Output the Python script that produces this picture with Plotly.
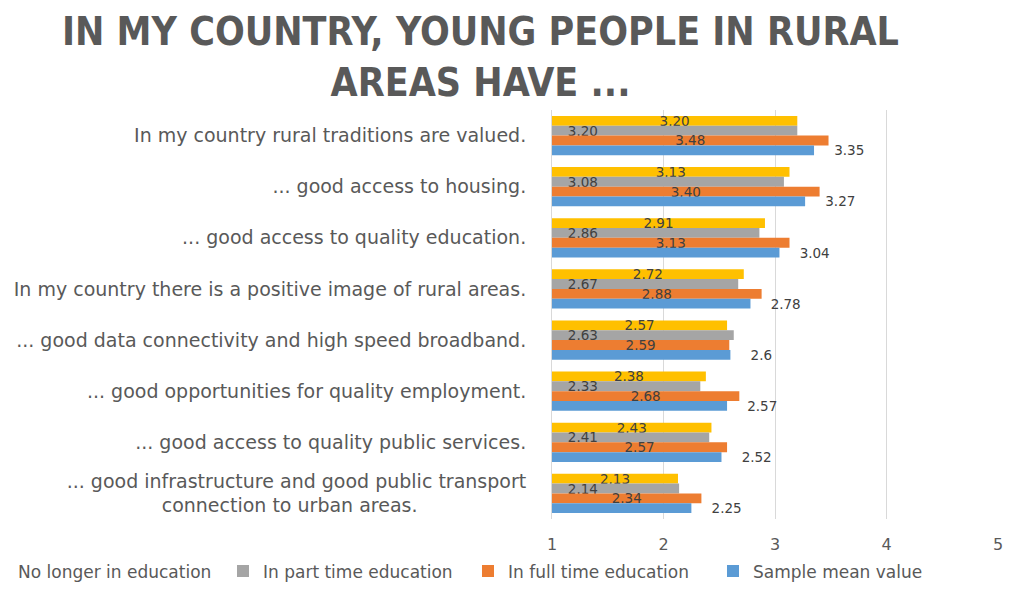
import plotly.graph_objects as go

categories = [
    "In my country rural traditions are valued.",
    "... good access to housing.",
    "... good access to quality education.",
    "In my country there is a positive image of rural areas.",
    "... good data connectivity and high speed broadband.",
    "... good opportunities for quality employment.",
    "... good access to quality public services.",
    "... good infrastructure and good public transport<br>connection to urban areas." + "&nbsp;" * 18,
]
no_longer = [3.20, 3.13, 2.91, 2.72, 2.57, 2.38, 2.43, 2.13]
part_time = [3.20, 3.08, 2.86, 2.67, 2.63, 2.33, 2.41, 2.14]
full_time = [3.48, 3.40, 3.13, 2.88, 2.59, 2.68, 2.57, 2.34]
sample_mean = [3.35, 3.27, 3.04, 2.78, 2.6, 2.57, 2.52, 2.25]

GREY = "#595959"
LABEL = "#404040"
BASE = 1

# top-to-bottom order inside each group (y axis is reversed)
series = [
    ("No longer in education", no_longer, "#FFC000", "inside", "middle", [f"{v:.2f}" for v in no_longer]),
    ("In part time education", part_time, "#A5A5A5", "inside", "start", ["   " + f"{v:.2f}" for v in part_time]),
    ("In full time education", full_time, "#ED7D31", "inside", "middle", [f"{v:.2f}" for v in full_time]),
    ("Sample mean value", sample_mean, "#5B9BD5", "outside", "start", ["    " + str(v) for v in sample_mean]),
]

fig = go.Figure()
for name, vals, color, pos, anchor, txt in series:
    fig.add_trace(go.Bar(
        y=categories,
        x=[v - BASE for v in vals],
        base=BASE,
        name=name,
        orientation="h",
        marker=dict(color=color, line=dict(width=0)),
        text=txt,
        textposition=pos,
        insidetextanchor=anchor,
        textangle=0,
        constraintext="none",
        cliponaxis=False,
        textfont=dict(size=13.5, color=LABEL, family="DejaVu Sans"),
    ))

# page body adds an 8px margin; keep the figure inside the window (no scrollbars)
fig.update_layout(
    width=996,
    height=576,
    barmode="group",
    bargap=0.23,
    bargroupgap=0,
    paper_bgcolor="white",
    plot_bgcolor="white",
    font=dict(family="DejaVu Sans", color=GREY, size=16),
    margin=dict(l=544, r=6, t=102, b=65, autoexpand=False),
    xaxis=dict(
        range=[1, 5],
        tickvals=[1, 2, 3, 4, 5],
        showgrid=True,
        gridcolor="#D9D9D9",
        zeroline=False,
        showline=False,
        ticks="",
        ticklabelstandoff=14,
        tickfont=dict(size=16, color=GREY),
        automargin=False,
    ),
    yaxis=dict(
        autorange="reversed",
        showline=True,
        linecolor="#D9D9D9",
        ticks="",
        ticklabelstandoff=21,
        tickfont=dict(size=19, color=GREY),
        automargin=False,
    ),
    legend=dict(
        orientation="h",
        x=-1.287, xanchor="left",
        y=-0.128, yanchor="middle",
        font=dict(size=17, color=GREY),
        itemwidth=30,
        entrywidth=200,
        entrywidthmode="pixels",
    ),
    annotations=[dict(
        text="<b>IN MY COUNTRY, YOUNG PEOPLE IN RURAL<br>AREAS HAVE ...</b>",
        xref="paper", yref="paper",
        x=-0.161, y=1.252, xanchor="center", yanchor="top",
        showarrow=False,
        font=dict(family="DejaVu Sans Condensed", size=39, color=GREY),
    )],
)

fig.write_html("out.html")
